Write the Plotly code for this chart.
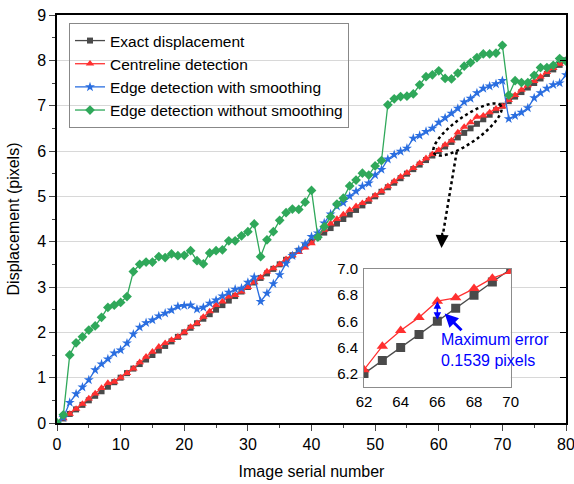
import numpy as np
import plotly.graph_objects as go

image_no = list(range(0, 81))

exact = [0.0, 0.1, 0.2, 0.3, 0.4, 0.5, 0.6, 0.7, 0.8, 0.9,
         1.0, 1.1, 1.2, 1.3, 1.4, 1.5, 1.6, 1.7, 1.8, 1.9,
         2.0, 2.1, 2.2, 2.3, 2.4, 2.5, 2.6, 2.7, 2.8, 2.9,
         3.0, 3.1, 3.2, 3.3, 3.4, 3.5, 3.6, 3.7, 3.8, 3.9,
         4.0, 4.1, 4.2, 4.3, 4.4, 4.5, 4.6, 4.7, 4.8, 4.9,
         5.0, 5.1, 5.2, 5.3, 5.4, 5.5, 5.6, 5.7, 5.8, 5.9,
         6.0, 6.1, 6.2, 6.3, 6.4, 6.5, 6.6, 6.7, 6.8, 6.9,
         7.0, 7.1, 7.2, 7.3, 7.4, 7.5, 7.6, 7.7, 7.8, 7.9, 8.0]

centreline = [0.0, 0.1, 0.2, 0.31, 0.42, 0.54, 0.65, 0.77, 0.88, 0.91,
              1.0, 1.1, 1.2, 1.34, 1.46, 1.57, 1.68, 1.76, 1.83, 1.9,
              2.0, 2.12, 2.2, 2.34, 2.46, 2.6, 2.68, 2.79, 2.82, 2.9,
              3.0, 3.1, 3.21, 3.34, 3.41, 3.5, 3.61, 3.7, 3.77, 3.87,
              3.96, 4.12, 4.26, 4.4, 4.5, 4.6, 4.7, 4.78, 4.85, 4.93,
              5.02, 5.11, 5.22, 5.33, 5.43, 5.52, 5.62, 5.73, 5.84, 5.93,
              6.02, 6.14, 6.23, 6.41, 6.53, 6.63, 6.754, 6.78, 6.85, 6.93,
              6.98, 7.12, 7.23, 7.35, 7.45, 7.54, 7.64, 7.74, 7.83, 7.92, 8.0]

edge_smooth = [0.0, 0.12, 0.45, 0.64, 0.79, 0.95, 1.17, 1.30, 1.41, 1.54,
               1.61, 1.76, 1.96, 2.11, 2.21, 2.27, 2.36, 2.42, 2.49, 2.57,
               2.59, 2.60, 2.51, 2.55, 2.64, 2.71, 2.80, 2.88, 2.95, 2.97,
               3.10, 3.22, 2.68, 2.86, 3.07, 3.27, 3.52, 3.69, 3.82, 3.95,
               4.11, 4.19, 4.41, 4.61, 4.78, 4.86, 5.00, 5.11, 5.22, 5.29,
               5.47, 5.59, 5.82, 5.92, 5.99, 6.06, 6.28, 6.34, 6.43, 6.50,
               6.63, 6.73, 6.83, 6.94, 7.08, 7.16, 7.28, 7.38, 7.43, 7.48,
               7.55, 6.71, 6.78, 6.85, 6.95, 7.17, 7.28, 7.38, 7.46, 7.50, 7.68]

edge_raw = [0.0, 0.18, 1.5, 1.77, 1.9, 2.05, 2.14, 2.33, 2.55, 2.6,
            2.66, 2.79, 3.34, 3.5, 3.55, 3.55, 3.67, 3.65, 3.73, 3.69,
            3.70, 3.80, 3.58, 3.51, 3.75, 3.80, 3.82, 4.02, 4.02, 4.13,
            4.22, 4.39, 3.67, 4.04, 4.22, 4.47, 4.64, 4.72, 4.71, 4.87,
            5.13, 4.10, 4.33, 4.55, 4.83, 4.96, 5.23, 5.36, 5.51, 5.47,
            5.67, 5.79, 7.02, 7.15, 7.20, 7.21, 7.26, 7.46, 7.64, 7.68,
            7.77, 7.60, 7.59, 7.72, 7.87, 7.95, 8.06, 8.14, 8.14, 8.16,
            8.33, 7.23, 7.55, 7.51, 7.51, 7.67, 7.84, 7.84, 7.89, 8.04, 7.98]

inset_lo, inset_hi = 62, 70

names = ["Exact displacement", "Centreline detection",
         "Edge detection with smoothing", "Edge detection without smoothing"]

C_BLACK = "#4a4a4a"
C_RED = "#ff3030"
C_BLUE = "#2a6ee0"
C_GREEN = "#2fa85a"
FONT = "Liberation Sans"

fig = go.Figure()
series = [
    (exact, names[0], C_BLACK, "square", 6),
    (centreline, names[1], C_RED, "triangle-up", 7.5),
    (edge_smooth, names[2], C_BLUE, "star", 7.5),
    (edge_raw, names[3], C_GREEN, "diamond", 7.5),
]
for ys, nm, col, sym, sz in series:
    fig.add_trace(go.Scatter(x=image_no, y=ys, name=nm, mode="lines+markers",
                             line=dict(color=col, width=1.3),
                             marker=dict(symbol=sym, size=sz, color=col),
                             xaxis="x", yaxis="y"))

# inset
sel = [i for i, v in enumerate(image_no) if inset_lo <= v <= inset_hi]
fig.add_trace(go.Scatter(x=[image_no[i] for i in sel], y=[exact[i] for i in sel],
                         mode="lines+markers", showlegend=False,
                         line=dict(color=C_BLACK, width=1.3),
                         marker=dict(symbol="square", size=9, color=C_BLACK),
                         xaxis="x2", yaxis="y2"))
fig.add_trace(go.Scatter(x=[image_no[i] for i in sel], y=[centreline[i] for i in sel],
                         mode="lines+markers", showlegend=False,
                         line=dict(color=C_RED, width=1.3),
                         marker=dict(symbol="triangle-up", size=10, color=C_RED),
                         xaxis="x2", yaxis="y2"))
# dummy trace for inner right ticks
fig.add_trace(go.Scatter(x=[None], y=[None], showlegend=False, xaxis="x", yaxis="y3",
                         hoverinfo="skip"))

W, H = 574, 484
ml, mr, mt, mb = 57, 8, 15, 61
pw, ph = W - ml - mr, H - mt - mb

fig.update_layout(
    width=W, height=H,
    margin=dict(l=ml, r=mr, t=mt, b=mb, autoexpand=False),
    paper_bgcolor="white", plot_bgcolor="white",
    font=dict(family=FONT, size=16, color="black"),
    showlegend=True,
    legend=dict(x=(69 - ml) / pw, y=(H - mb - 23) / ph, xanchor="left", yanchor="top",
                bordercolor="#888888", borderwidth=1, bgcolor="rgba(255,255,255,0)",
                font=dict(size=15.5), tracegroupgap=0, itemwidth=30),
    xaxis=dict(range=[0, 80], tickvals=list(range(0, 81, 10)), ticks="outside", ticklen=6,
               tickwidth=1.2, showline=True, linecolor="black", linewidth=1.5, mirror=True,
               showgrid=False, zeroline=False, minor=dict(dtick=5, ticks="outside", ticklen=3),
               title=dict(text="Image serial number", standoff=14, font=dict(size=16)),
               automargin=False, ticklabeloverflow="allow",
               tickfont=dict(size=16), domain=[0, 1]),
    yaxis=dict(range=[0, 9], dtick=1, ticks="outside", ticklen=6, tickwidth=1.2,
               showline=True, linecolor="black", linewidth=1.5, mirror=True,
               showgrid=True, gridcolor="#d8d8d8", gridwidth=1, zeroline=False,
               minor=dict(dtick=0.5, ticks="outside", ticklen=3, showgrid=False),
               title=dict(text="Displacement (pixels)", standoff=14, font=dict(size=16)),
               automargin=False, ticklabeloverflow="allow",
               tickfont=dict(size=16), domain=[0, 1]),
    yaxis3=dict(range=[0, 9], dtick=1, overlaying="y", side="right", ticks="inside",
                ticklen=6, tickwidth=1.2, tickcolor="black", showticklabels=False,
                showgrid=False, zeroline=False, showline=False, automargin=False),
    xaxis2=dict(domain=[(364 - ml) / pw, (510.7 - ml) / pw], anchor="y2",
                range=[62, 70], tickvals=[62, 64, 66, 68, 70], ticks="",
                showline=True, linecolor="#8c8c8c", linewidth=1, mirror=True, automargin=False,
                showgrid=False, zeroline=False, tickfont=dict(size=15), ticklabelstandoff=1),
    yaxis2=dict(domain=[(H - mb - 386.7) / ph, (H - mb - 269) / ph], anchor="x2",
                range=[6.1, 7.0], tickvals=[6.2, 6.4, 6.6, 6.8, 7.0], tickformat=".1f",
                ticks="", showline=True, linecolor="#8c8c8c", linewidth=1,
                mirror=True, showgrid=False, zeroline=False, tickfont=dict(size=15),
                automargin=False, ticklabelstandoff=2),
)

# dotted ellipse around the zoomed region (defined in pixel geometry, mapped to data)
sx, sy = pw / 80.0, ph / 9.0
cx_px, cy_px, a_px, b_px, ang = 467.5, 129.5, 41.0, 13.0, np.deg2rad(35.5)
t = np.linspace(0, 2 * np.pi, 60)
ex = cx_px + a_px * np.cos(t) * np.cos(ang) - b_px * np.sin(t) * np.sin(ang)
ey = cy_px - (a_px * np.cos(t) * np.sin(ang) + b_px * np.sin(t) * np.cos(ang))
dx = (ex - ml) / sx
dy = (H - mb - ey) / sy
path = "M " + " L ".join(f"{x:.3f},{y:.3f}" for x, y in zip(dx, dy)) + " Z"
fig.add_shape(type="path", path=path, xref="x", yref="y",
              line=dict(color="black", width=2.5, dash="dot"))

# dotted pointer line + arrowhead
p0 = ((456.7 - ml) / sx, (H - mb - 151.7) / sy)
p1 = ((442.3 - ml) / sx, (H - mb - 238) / sy)
p2 = ((441.5 - ml) / sx, (H - mb - 248) / sy)
fig.add_shape(type="line", x0=p0[0], y0=p0[1], x1=p1[0], y1=p1[1], xref="x", yref="y",
              line=dict(color="black", width=2.5, dash="dot"))
fig.add_annotation(x=p2[0], y=p2[1], ax=p1[0], ay=p1[1] + 0.15, xref="x", yref="y",
                   axref="x", ayref="y", showarrow=True, arrowhead=2, arrowsize=1.3,
                   arrowwidth=2, arrowcolor="black", text="")

# inset annotations
fig.add_annotation(x=66, y=6.754, ax=66, ay=6.6, xref="x2", yref="y2", axref="x2", ayref="y2",
                   showarrow=True, arrowhead=2, arrowside="end+start", arrowsize=1,
                   arrowwidth=1.5, arrowcolor="#0000ff", text="")
fig.add_annotation(x=66.4, y=6.66, ax=67.4, ay=6.52, xref="x2", yref="y2", axref="x2", ayref="y2",
                   showarrow=True, arrowhead=2, arrowsize=0.9, arrowwidth=3,
                   arrowcolor="#0000ff", text="")
fig.add_annotation(x=66.1, y=6.38, xref="x2", yref="y2", xanchor="left", yanchor="middle",
                   align="left", showarrow=False, text="Maximum error<br>0.1539 pixels",
                   font=dict(size=16, color="#0000ff"))

fig.write_html("out.html")
